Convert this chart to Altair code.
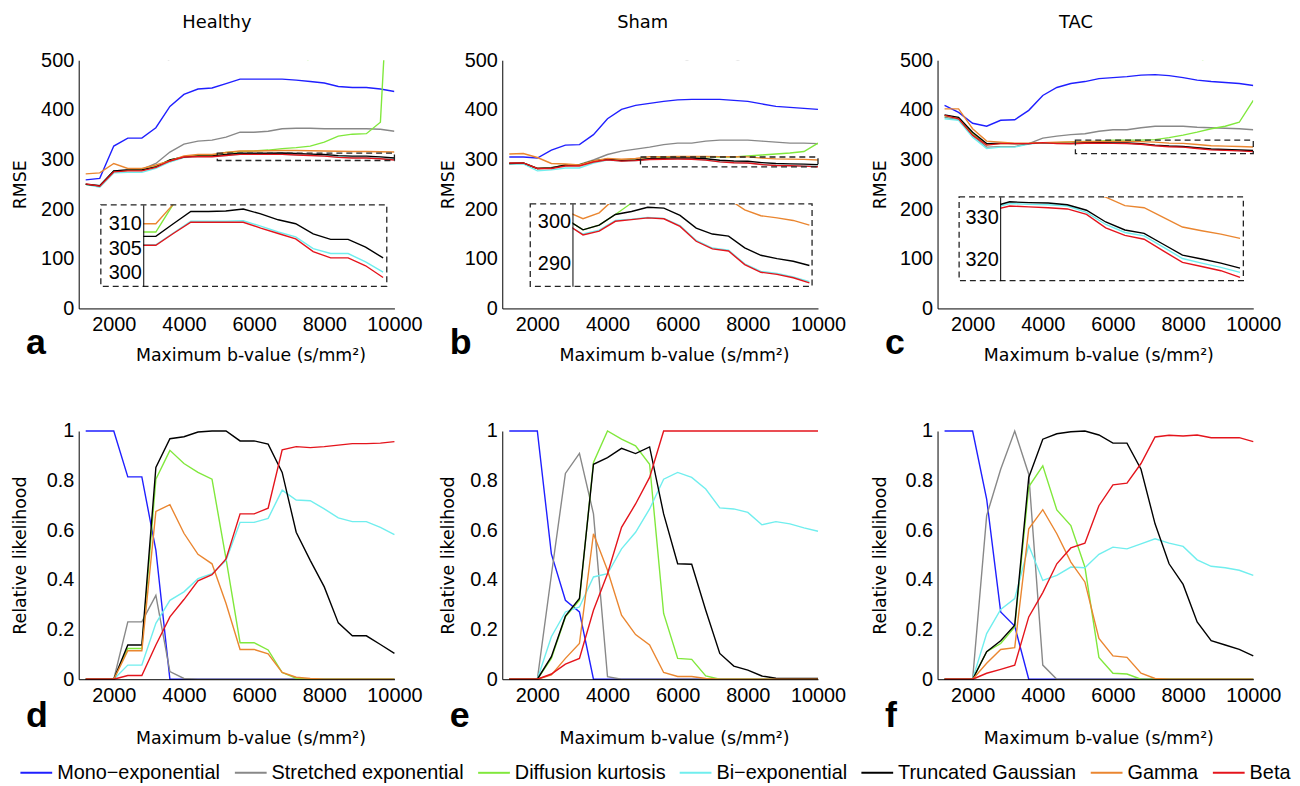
import altair as alt
import pandas as pd

# ---------------- data ----------------
B_VALUES = [1200, 1600, 2000, 2400, 2800, 3200, 3600, 4000, 4400, 4800, 5200, 5600,
            6000, 6400, 6800, 7200, 7600, 8000, 8400, 8800, 9200, 9600, 10000]
MODELS = ["Mono−exponential", "Stretched exponential", "Diffusion kurtosis",
          "Bi−exponential", "Truncated Gaussian", "Gamma", "Beta"]
COLORS = ["#1f1fff", "#888888", "#80e83c", "#70eeee", "#000000", "#ea8630", "#e4141c"]

# Healthy RMSE
a_mono = [259, 262, 327, 343, 343, 364, 407, 431, 442, 444, 453, 462, 462, 462, 462, 460, 457, 454, 447, 445, 445, 442, 437]
a_stretched = [251, 247, 277, 279, 280, 292, 315, 331, 337, 339, 345, 355, 355, 357, 362, 363, 363, 362, 362, 362, 362, 361, 357]
a_kurtosis = [250, 246, 276, 278, 279, 286, 299, 305, 308.3, 308.3, 314, 316, 317, 319, 322, 324, 327, 335, 347, 351, 352, 375, 900]
a_biexp = [250, 244, 273, 274, 274, 282, 295, 304, 305.7, 305.7, 308.1, 310.5, 310.5, 310.5, 310.6, 309.5, 308.3, 307.3, 304.9, 303.9, 303.9, 302.2, 300.1]
a_truncgauss = [250, 247, 277, 279, 279, 285, 299, 305, 307.4, 307.4, 310.0, 312.5, 312.5, 312.6, 313.0, 312.0, 310.8, 310.0, 307.9, 306.8, 306.8, 305.2, 303.0]
a_gamma = [271, 273, 292, 282, 282, 289, 297, 307, 310, 310, 314, 317, 317, 317.5, 318, 318, 317.5, 317, 316.5, 316, 316, 315.5, 315]
a_beta = [251, 246, 275, 277, 277, 284, 297, 305, 305.6, 305.6, 308.0, 310.3, 310.3, 310.3, 310.3, 309.1, 308.0, 306.9, 304.3, 303.0, 303.0, 301.4, 299.0]

# Sham RMSE
b_mono = [305, 305, 303, 319, 329, 330, 350, 382, 401, 409, 413, 417, 420, 421, 421, 421, 419, 417, 412, 407, 405, 403, 401]
b_stretched = [292, 292, 282, 284, 288, 290, 299, 310, 317, 321, 325, 330, 333, 333, 337, 339, 339, 339, 337, 335, 333, 333, 332]
b_kurtosis = [292, 293, 282, 283, 289, 289, 297, 300.4, 298.0, 299.1, 301.6, 304.3, 305, 305.5, 305.5, 305, 305, 307, 309, 311, 313, 316, 333]
b_biexp = [291, 291, 277, 279, 283, 283, 293, 299.1, 297.0, 297.9, 300.2, 300.5, 300.9, 300.7, 299.0, 295.5, 293.7, 293.2, 290.0, 288.2, 287.7, 286.9, 285.8]
b_truncgauss = [292, 293, 282, 283, 289, 289, 297, 300.4, 298.0, 299.1, 301.6, 302.3, 303.3, 303.1, 301.4, 298.4, 297.0, 296.5, 293.75, 292.0, 291.2, 290.6, 289.6]
b_gamma = [311, 312, 304, 292, 291, 289, 297, 302.3, 300.6, 302.0, 305.5, 305.8, 306, 306, 306, 305.8, 305.5, 305.2, 302.7, 301.3, 300.8, 300.2, 299.1]
b_beta = [293, 293, 282, 282, 287, 287, 295, 299.3, 296.8, 297.7, 300.0, 300.4, 300.8, 300.6, 298.8, 295.3, 293.5, 293.0, 289.8, 288.0, 287.5, 286.7, 285.5]

# TAC RMSE
c_mono = [409, 395, 373, 367, 379, 380, 399, 429, 445, 453, 457, 463, 465, 467, 470, 471, 469, 465, 460, 457, 455, 453, 449]
c_stretched = [385, 380, 348, 325, 326, 326, 332, 343, 347, 350, 352, 357, 360, 360, 364, 367, 367, 367, 365, 364, 363, 362, 360]
c_kurtosis = [388, 383, 352, 330, 332, 332, 332, 334, 334, 335.5, 336.5, 337, 339, 339, 339, 340, 344, 349, 355, 362, 367, 375, 419]
c_biexp = [382, 379, 345, 322, 325, 325, 331, 334, 333, 332.2, 333.4, 333.2, 333.1, 332.8, 331.3, 328.4, 326.5, 325.7, 323.0, 320.3, 319.2, 318.2, 317.0]
c_truncgauss = [390, 385, 355, 332, 333, 332, 332, 334, 333, 332.5, 333.8, 333.6, 333.5, 333.1, 331.8, 329.0, 327.1, 326.3, 323.7, 321.1, 320.2, 319.2, 318.0]
c_gamma = [402, 402, 362, 337, 335, 333, 333, 334, 335, 335.5, 336, 336.5, 336.5, 336.5, 336, 334.9, 332.9, 332.4, 330.1, 327.8, 326.9, 326.1, 325.1]
c_beta = [389, 382, 349, 329, 332, 332, 332, 334, 332, 331.7, 332.8, 332.6, 332.4, 332.1, 330.8, 327.6, 325.8, 324.9, 322.1, 319.4, 318.4, 317.4, 315.8]

# Healthy relative likelihood
d_mono = [1, 1, 1, 0.815, 0.815, 0.52, 0, 0, 0, 0, 0, 0, 0, 0, 0, 0, 0, 0, 0, 0, 0, 0, 0]
d_stretched = [0, 0, 0, 0.231, 0.231, 0.338, 0.031, 0.003, 0, 0, 0, 0, 0, 0, 0, 0, 0, 0, 0, 0, 0, 0, 0]
d_kurtosis = [0, 0, 0, 0.124, 0.124, 0.806, 0.922, 0.869, 0.833, 0.806, 0.485, 0.147, 0.147, 0.118, 0.027, 0.004, 0, 0, 0, 0, 0, 0, 0]
d_biexp = [0, 0, 0, 0.057, 0.057, 0.225, 0.318, 0.352, 0.405, 0.425, 0.479, 0.632, 0.632, 0.648, 0.762, 0.722, 0.719, 0.686, 0.65, 0.635, 0.635, 0.612, 0.583]
d_truncgauss = [0, 0, 0, 0.138, 0.138, 0.853, 0.969, 0.977, 0.996, 1.0, 1.0, 0.96, 0.96, 0.947, 0.833, 0.592, 0.479, 0.372, 0.227, 0.175, 0.175, 0.14, 0.104]
d_gamma = [0, 0, 0, 0.115, 0.115, 0.676, 0.703, 0.588, 0.503, 0.465, 0.305, 0.12, 0.12, 0.102, 0.027, 0.008, 0.003, 0, 0, 0, 0, 0, 0]
d_beta = [0, 0, 0, 0.015, 0.015, 0.138, 0.251, 0.321, 0.396, 0.421, 0.485, 0.666, 0.666, 0.689, 0.924, 0.937, 0.933, 0.937, 0.943, 0.949, 0.949, 0.951, 0.957]

# Sham relative likelihood
e_mono = [1, 1, 1, 0.505, 0.318, 0.271, 0, 0, 0, 0, 0, 0, 0, 0, 0, 0, 0, 0, 0, 0, 0, 0, 0]
e_stretched = [0, 0, 0, 0.42, 0.829, 0.91, 0.666, 0.01, 0, 0, 0, 0, 0, 0, 0, 0, 0, 0, 0, 0, 0, 0, 0]
e_kurtosis = [0, 0, 0, 0.084, 0.251, 0.318, 0.873, 1.0, 0.967, 0.94, 0.866, 0.265, 0.084, 0.08, 0.013, 0, 0, 0, 0, 0, 0, 0, 0]
e_biexp = [0, 0, 0, 0.171, 0.271, 0.291, 0.412, 0.425, 0.525, 0.592, 0.686, 0.806, 0.833, 0.813, 0.766, 0.69, 0.686, 0.672, 0.622, 0.635, 0.626, 0.61, 0.596]
e_truncgauss = [0, 0, 0, 0.091, 0.254, 0.325, 0.866, 0.893, 0.93, 0.909, 0.936, 0.666, 0.465, 0.463, 0.278, 0.104, 0.053, 0.037, 0.013, 0.004, 0.003, 0.003, 0.003]
e_gamma = [0, 0, 0, 0.017, 0.084, 0.144, 0.586, 0.439, 0.258, 0.18, 0.138, 0.027, 0.011, 0.011, 0.003, 0, 0, 0, 0, 0, 0, 0, 0]
e_beta = [0, 0, 0, 0.021, 0.061, 0.084, 0.278, 0.425, 0.612, 0.706, 0.813, 1, 1, 1, 1, 1, 1, 1, 1, 1, 1, 1, 1]

# TAC relative likelihood
f_mono = [1, 1, 1, 0.726, 0.271, 0.214, 0, 0, 0, 0, 0, 0, 0, 0, 0, 0, 0, 0, 0, 0, 0, 0, 0]
f_stretched = [0, 0, 0, 0.659, 0.846, 1.0, 0.826, 0.057, 0, 0, 0, 0, 0, 0, 0, 0, 0, 0, 0, 0, 0, 0, 0]
f_kurtosis = [0, 0, 0, 0.111, 0.144, 0.211, 0.775, 0.86, 0.682, 0.619, 0.452, 0.088, 0.024, 0.021, 0, 0, 0, 0, 0, 0, 0, 0, 0]
f_biexp = [0, 0, 0, 0.184, 0.281, 0.325, 0.539, 0.398, 0.418, 0.452, 0.449, 0.503, 0.532, 0.525, 0.545, 0.566, 0.548, 0.535, 0.481, 0.455, 0.449, 0.439, 0.418]
f_truncgauss = [0, 0, 0, 0.111, 0.155, 0.218, 0.813, 0.967, 0.989, 0.997, 1.0, 0.984, 0.951, 0.951, 0.846, 0.626, 0.465, 0.382, 0.231, 0.155, 0.138, 0.12, 0.094]
f_gamma = [0, 0, 0, 0.064, 0.12, 0.127, 0.606, 0.683, 0.586, 0.472, 0.392, 0.164, 0.094, 0.088, 0.024, 0.003, 0, 0, 0, 0, 0, 0, 0]
f_beta = [0, 0, 0, 0.024, 0.04, 0.057, 0.251, 0.349, 0.465, 0.529, 0.548, 0.699, 0.783, 0.79, 0.869, 0.976, 0.983, 0.98, 0.984, 0.973, 0.973, 0.973, 0.957]

COLUMN_TITLES = ["Healthy", "Sham", "TAC"]
LETTERS = ["a", "b", "c", "d", "e", "f"]
X_TICKS = [2000, 4000, 6000, 8000, 10000]
RMSE_TICKS = [0, 100, 200, 300, 400, 500]
LIK_TICKS = [0, 0.2, 0.4, 0.6, 0.8, 1]

# inset definitions (in main-axis units)
INSETS = [
    dict(box=[1631, 9782, 44.6, 208.6], axis_b=2840, end_b=9677, xdom=[4512, 10000],
         ydom=[297.2, 313.85], ticks=[300, 305, 310], start=4400, small=[4950, 10000, 298, 313]),
    dict(box=[1798, 9831, 44.6, 210.6], axis_b=3001, end_b=9755, xdom=[4139, 10000],
         ydom=[284.7, 304.1], ticks=[290, 300], start=4000, small=[4940, 10000, 285, 305]),
    dict(box=[1615, 9717, 56.0, 224.6], axis_b=2785, end_b=9623, xdom=[5000, 10000],
         ydom=[315.04, 334.96], ticks=[320, 330], start=4800, small=[4930, 10000, 312, 339]),
]
TITLE_X = [-58.4, -54.0, -57.8]
XTITLE_X = [173, 173, 162]

# ---------------- layout / style ----------------
W, H = 318, 250
XDOM = [1000, 10000]
TICK_FONT = "Liberation Sans"
TEXT_FONT = "DejaVu Sans"
XTITLE = "Maximum b-value (s/mm²)"


def px(b):
    return (b - XDOM[0]) / (XDOM[1] - XDOM[0]) * W


def py(v, top):
    return H - v / top * H


def long_df(series):
    rows = []
    for m, vals in zip(MODELS, series):
        for b, v in zip(B_VALUES, vals):
            rows.append({"b": b, "v": v, "model": m})
    return pd.DataFrame(rows)


LEGEND = alt.Legend(orient="none", legendX=-59.7, legendY=700.7, direction="horizontal", columns=7,
                    title=None, symbolType="stroke", symbolSize=1024, symbolStrokeWidth=2,
                    labelFont=TICK_FONT, labelFontSize=20, labelColor="black", labelOffset=4,
                    columnPadding=10, labelLimit=400, padding=0)
COLOR = alt.Color("model:N", scale=alt.Scale(domain=MODELS, range=COLORS), legend=LEGEND)


def xmain(field="b", axis=True, tpad=12.25, tx=W / 2):
    return alt.X(f"{field}:Q", scale=alt.Scale(domain=XDOM, nice=False, zero=False),
                 axis=alt.Axis(values=X_TICKS, format="d", title=XTITLE, orient="bottom", zindex=1,
                               titlePadding=tpad, titleX=tx)
                 if axis else None)


def ymain(field, top, ticks, fmt, title, tx, axis=True):
    ax = None
    if axis:
        ax = alt.Axis(values=ticks, format=fmt, title=title, orient="left", zindex=1,
                      titleX=tx, titleY=H / 2, titleAngle=270, titleBaseline="middle",
                      titleAlign="center")
    return alt.Y(f"{field}:Q", scale=alt.Scale(domain=[0, top], nice=False, zero=False), axis=ax)


def letter_title(t, offset):
    return alt.TitleParams(t, orient="bottom", anchor="start", frame="group", dx=-53, offset=offset,
                           font=TICK_FONT, fontSize=36, fontWeight="bold", color="black")


def rmse_panel(series, i):
    ins = INSETS[i]
    df = long_df(series)
    bx0, bx1, by0, by1 = ins["box"]
    inset_df = df[df["b"] >= ins["start"]]
    inset_lines = alt.Chart(inset_df).mark_line(strokeWidth=1.4, clip=True).encode(
        x=alt.X("b:Q", scale=alt.Scale(domain=ins["xdom"], range=[px(ins["axis_b"]), px(ins["end_b"])],
                                       nice=False, zero=False), axis=None),
        y=alt.Y("v:Q", scale=alt.Scale(domain=ins["ydom"], range=[py(by0, 500), py(by1, 500)],
                                       nice=False, zero=False),
                axis=alt.Axis(orient="left", offset=-px(ins["axis_b"]), values=ins["ticks"], format="d",
                              title=None, labelPadding=2, zindex=1)),
        color=COLOR)
    mask_df = pd.DataFrame([
        {"x0": XDOM[0], "x1": XDOM[1], "y0": by1, "y1": 500},
        {"x0": bx0, "x1": ins["axis_b"], "y0": by0, "y1": by1},
    ])
    mask = alt.Chart(mask_df).mark_rect(color="white").encode(
        x=xmain("x0", False), x2="x1", y=ymain("y0", 500, None, None, None, 0, False), y2="y1")
    main_lines = alt.Chart(df).mark_line(strokeWidth=1.4, clip=True).encode(
        x=xmain(tpad=12.25, tx=XTITLE_X[i]), y=ymain("v", 500, RMSE_TICKS, "d", "RMSE", TITLE_X[i]),
        color=COLOR)
    s = ins["small"]
    box_df = pd.DataFrame([
        {"x0": s[0], "x1": s[1], "y0": s[2], "y1": s[3]},
        {"x0": bx0, "x1": bx1, "y0": by0, "y1": by1},
    ])
    boxes = alt.Chart(box_df).mark_rect(filled=False, stroke="#222222", strokeWidth=1.3,
                                        strokeDash=[6, 4]).encode(
        x=xmain("x0", False), x2="x1", y=ymain("y0", 500, None, None, None, 0, False), y2="y1")
    return alt.layer(inset_lines, mask, main_lines, boxes).resolve_scale(
        x="independent", y="independent").properties(
        width=W, height=H, title=letter_title(LETTERS[i], -38.25))


def lik_panel(series, i):
    df = long_df(series)
    lines = alt.Chart(df).mark_line(strokeWidth=1.4).encode(
        x=xmain(tpad=24.25, tx=XTITLE_X[i]),
        y=ymain("v", 1, LIK_TICKS, "~g", "Relative likelihood", TITLE_X[i]),
        color=COLOR)
    return lines.properties(width=W, height=H, title=letter_title(LETTERS[i + 3], -47.75))


tops = [
    [a_mono, a_stretched, a_kurtosis, a_biexp, a_truncgauss, a_gamma, a_beta],
    [b_mono, b_stretched, b_kurtosis, b_biexp, b_truncgauss, b_gamma, b_beta],
    [c_mono, c_stretched, c_kurtosis, c_biexp, c_truncgauss, c_gamma, c_beta],
]
bottoms = [
    [d_mono, d_stretched, d_kurtosis, d_biexp, d_truncgauss, d_gamma, d_beta],
    [e_mono, e_stretched, e_kurtosis, e_biexp, e_truncgauss, e_gamma, e_beta],
    [f_mono, f_stretched, f_kurtosis, f_biexp, f_truncgauss, f_gamma, f_beta],
]

cols = []
for i in range(3):
    cols.append(alt.vconcat(rmse_panel(tops[i], i), lik_panel(bottoms[i], i), spacing=57.45,
                            title=alt.TitleParams(COLUMN_TITLES[i], anchor="middle", offset=18,
                                                  font=TEXT_FONT, fontSize=18, fontWeight="normal",
                                                  color="black")))

chart = alt.hconcat(alt.hconcat(cols[0], cols[1], spacing=17.6), cols[2], spacing=25).configure(
    padding={"left": 3.2, "top": 3.8, "right": 0, "bottom": 0}
).configure_view(stroke=None).configure_axis(
    grid=False, ticks=False, domainColor="black", domainWidth=1, labelColor="black",
    labelFont=TICK_FONT, labelFontSize=20, labelFlush=False, labelPadding=5,
    titleFont=TEXT_FONT, titleFontSize=17.5, titleFontWeight="normal", titleColor="black"
).configure_axisX(labelPadding=6)

chart.save("out.html", embed_options={"renderer": "svg", "actions": False})
